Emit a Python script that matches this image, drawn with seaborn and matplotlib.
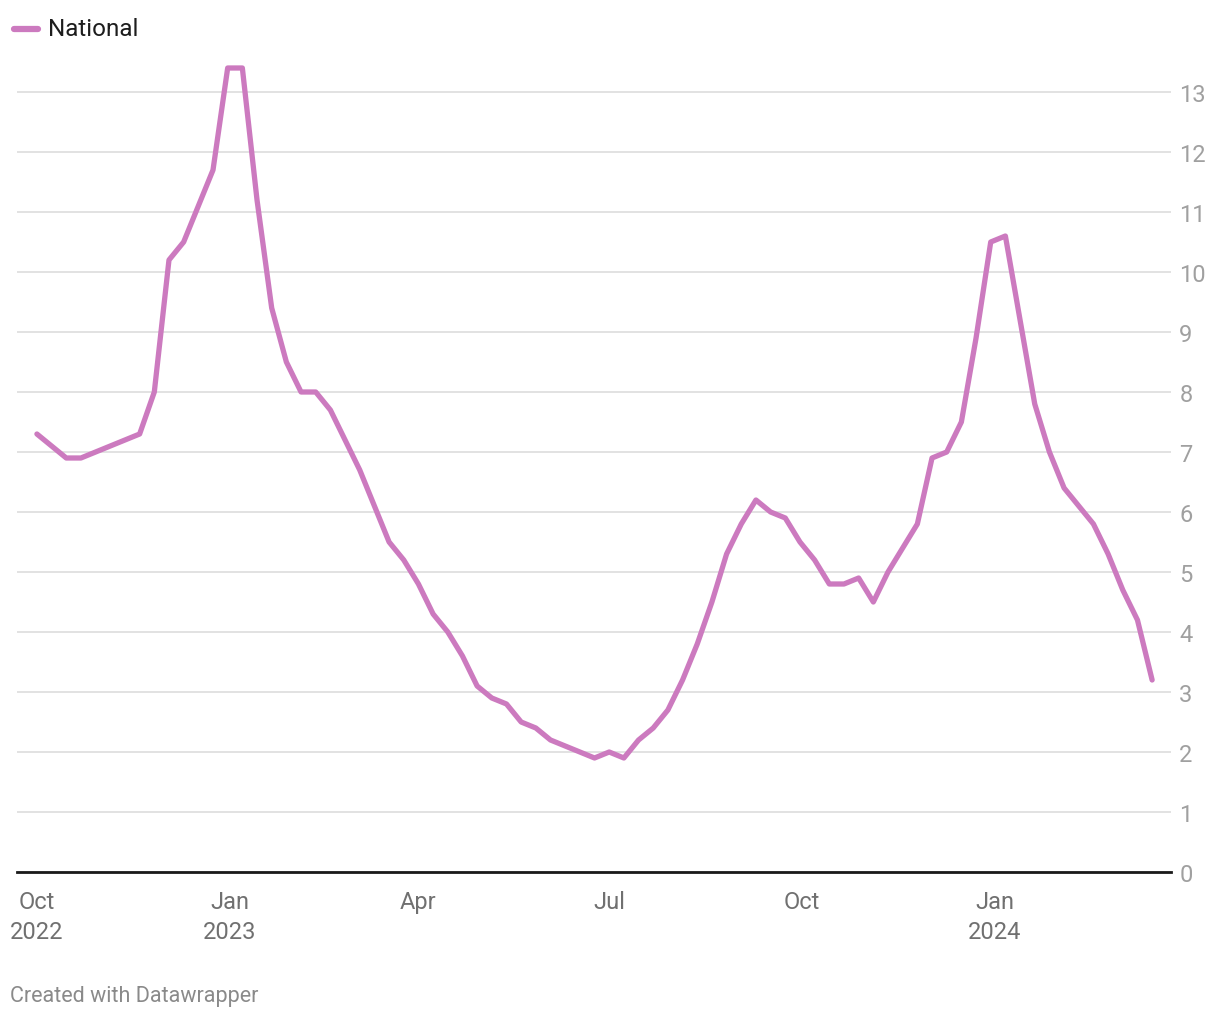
import matplotlib
matplotlib.use("Agg")
import matplotlib.pyplot as plt
import pandas as pd
import seaborn as sns

# weekly values, starting 1 Oct 2022
start_date = "2022-10-01"
national = [7.3, 7.1, 6.9, 6.9, 7.0, 7.1, 7.2, 7.3, 8.0, 10.2,
            10.5, 11.1, 11.7, 13.4, 13.4, 11.2, 9.4, 8.5, 8.0, 8.0,
            7.7, 7.2, 6.7, 6.1, 5.5, 5.2, 4.8, 4.3, 4.0, 3.6,
            3.1, 2.9, 2.8, 2.5, 2.4, 2.2, 2.1, 2.0, 1.9, 2.0,
            1.9, 2.2, 2.4, 2.7, 3.2, 3.8, 4.5, 5.3, 5.8, 6.2,
            6.0, 5.9, 5.5, 5.2, 4.8, 4.8, 4.9, 4.5, 5.0, 5.4,
            5.8, 6.9, 7.0, 7.5, 8.9, 10.5, 10.6, 9.2, 7.8, 7.0,
            6.4, 6.1, 5.8, 5.3, 4.7, 4.2, 3.2]
tick_dates = ["2022-10-01", "2023-01-01", "2023-04-01", "2023-07-01",
              "2023-10-01", "2024-01-01"]
tick_labels = ["Oct\n2022", "Jan\n2023", "Apr", "Jul", "Oct", "Jan\n2024"]
y_ticks = list(range(0, 14))

df = pd.DataFrame({
    "date": pd.date_range(start_date, periods=len(national), freq="7D"),
    "value": national,
})

sns.set_style("white")
plt.rcParams["font.family"] = ["Roboto", "DejaVu Sans"]

line_color = "#cc7abf"

fig = plt.figure(figsize=(12.2, 10.2), dpi=100)
W, H = 1220, 1020
ax = fig.add_axes([17 / W, (H - 873) / H, (1171 - 17) / W, 840 / H])

sns.lineplot(data=df, x="date", y="value", ax=ax, color=line_color,
             linewidth=3.8, solid_joinstyle="round", solid_capstyle="round",
             clip_on=False)

ax.set_ylim(0, 14)
ax.set_xlim(pd.Timestamp("2022-09-21 12:00"), pd.Timestamp("2024-03-25"))

ax.set_yticks(y_ticks)
ax.yaxis.tick_right()
ax.tick_params(axis="y", length=0, pad=6, labelsize=17, labelcolor="#a0a0a0")
ax.set_xticks([pd.Timestamp(d) for d in tick_dates])
ax.set_xticklabels(tick_labels, linespacing=1.4)
ax.tick_params(axis="x", length=0, pad=13, labelsize=17, labelcolor="#707070")

ax.grid(axis="y", color="#e2e2e2", linewidth=1.4)
ax.grid(axis="x", visible=False)
for s in ["top", "left", "right"]:
    ax.spines[s].set_visible(False)
ax.spines["bottom"].set_color("#1a1a1a")
ax.spines["bottom"].set_linewidth(2)
ax.set_xlabel("")
ax.set_ylabel("")
if ax.get_legend() is not None:
    ax.get_legend().remove()

# legend
fig.add_artist(plt.Line2D([14 / W, 38 / W], [(H - 30) / H, (H - 30) / H],
                          color=line_color, linewidth=4.5,
                          solid_capstyle="round"))
fig.text(48 / W, (H - 30) / H, "National", fontsize=17.5, color="#1d1d1d",
         va="center", ha="left")

fig.text(10 / W, (H - 997) / H, "Created with Datawrapper", fontsize=15.5,
         color="#8a8a8a", va="center", ha="left")

fig.savefig("out.png", dpi=100)
